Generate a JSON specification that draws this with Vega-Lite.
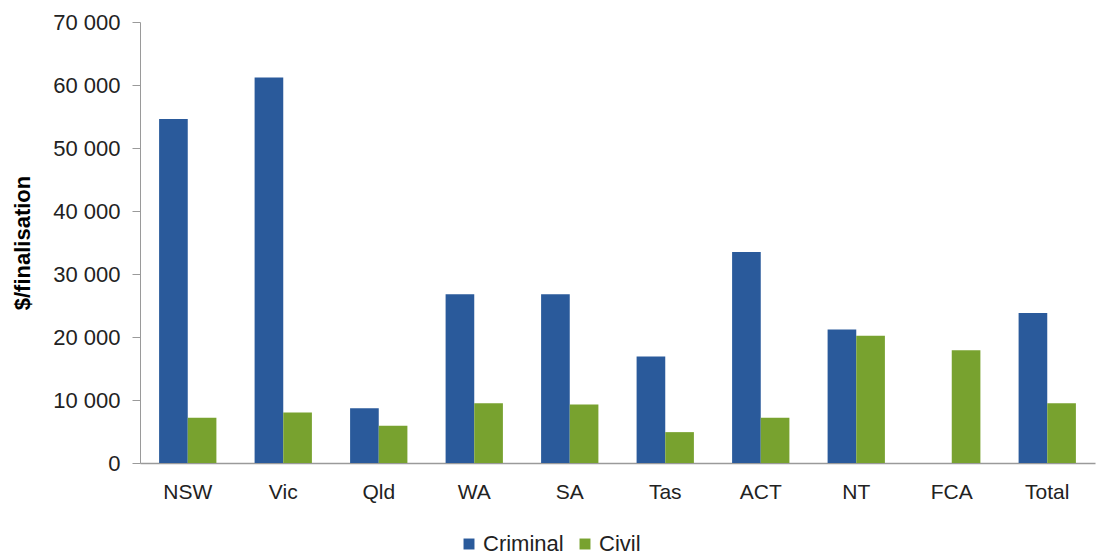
{
  "$schema": "https://vega.github.io/schema/vega-lite/v6.json",
  "autosize": "none",
  "width": 955,
  "height": 441,
  "padding": {"left": 140, "top": 22, "right": 3, "bottom": 93},
  "config": {
    "view": {"stroke": null},
    "font": "Liberation Sans"
  },
  "data": {
    "values": [
      {"jurisdiction": "NSW", "type": "Criminal", "value": 54600},
      {"jurisdiction": "NSW", "type": "Civil", "value": 7200},
      {"jurisdiction": "Vic", "type": "Criminal", "value": 61200},
      {"jurisdiction": "Vic", "type": "Civil", "value": 8000},
      {"jurisdiction": "Qld", "type": "Criminal", "value": 8700},
      {"jurisdiction": "Qld", "type": "Civil", "value": 5900},
      {"jurisdiction": "WA", "type": "Criminal", "value": 26800},
      {"jurisdiction": "WA", "type": "Civil", "value": 9500},
      {"jurisdiction": "SA", "type": "Criminal", "value": 26800},
      {"jurisdiction": "SA", "type": "Civil", "value": 9300},
      {"jurisdiction": "Tas", "type": "Criminal", "value": 16900},
      {"jurisdiction": "Tas", "type": "Civil", "value": 4900},
      {"jurisdiction": "ACT", "type": "Criminal", "value": 33500},
      {"jurisdiction": "ACT", "type": "Civil", "value": 7200},
      {"jurisdiction": "NT", "type": "Criminal", "value": 21200},
      {"jurisdiction": "NT", "type": "Civil", "value": 20200},
      {"jurisdiction": "FCA", "type": "Civil", "value": 17900},
      {"jurisdiction": "Total", "type": "Criminal", "value": 23800},
      {"jurisdiction": "Total", "type": "Civil", "value": 9500}
    ]
  },
  "mark": {"type": "bar"},
  "encoding": {
    "x": {
      "field": "jurisdiction",
      "type": "nominal",
      "sort": ["NSW", "Vic", "Qld", "WA", "SA", "Tas", "ACT", "NT", "FCA", "Total"],
      "scale": {"paddingInner": 0.4, "paddingOuter": 0.2},
      "axis": {
        "title": null,
        "labelAngle": 0,
        "labelFontSize": 21,
        "labelColor": "#222222",
        "labelPadding": 18,
        "ticks": false,
        "domainColor": "#9a9a9a",
        "domainWidth": 1.5
      }
    },
    "xOffset": {
      "field": "type",
      "type": "nominal",
      "sort": ["Criminal", "Civil"],
      "scale": {"paddingInner": 0, "paddingOuter": 0}
    },
    "y": {
      "field": "value",
      "type": "quantitative",
      "scale": {"domain": [0, 70000]},
      "axis": {
        "title": "$/finalisation",
        "titleFontSize": 22,
        "titleFontWeight": "bold",
        "titleColor": "#000000",
        "titlePadding": 18,
        "values": [0, 10000, 20000, 30000, 40000, 50000, 60000, 70000],
        "labelExpr": "replace(format(datum.value, ','), ',', ' ')",
        "labelOverlap": false,
        "grid": false,
        "labelFontSize": 22,
        "labelColor": "#222222",
        "labelPadding": 12,
        "tickColor": "#9a9a9a",
        "tickSize": 8,
        "domainColor": "#9a9a9a"
      }
    },
    "color": {
      "field": "type",
      "type": "nominal",
      "sort": ["Criminal", "Civil"],
      "scale": {"domain": ["Criminal", "Civil"], "range": ["#2A5A9B", "#78A22F"]},
      "legend": {
        "title": null,
        "orient": "none",
        "direction": "horizontal",
        "legendX": 318,
        "legendY": 511,
        "symbolType": "square",
        "symbolSize": 120,
        "symbolStrokeWidth": 0,
        "labelFontSize": 22,
        "labelColor": "#222222",
        "labelOffset": 3,
        "columnPadding": 10
      }
    }
  }
}
